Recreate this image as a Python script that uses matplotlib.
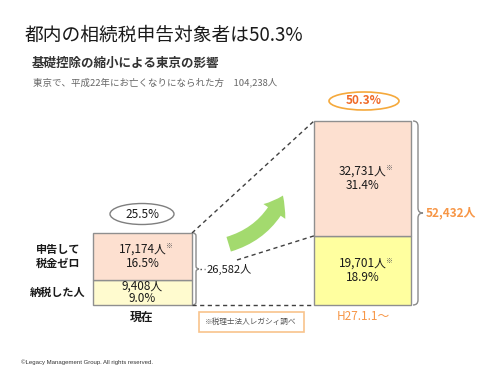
import matplotlib
matplotlib.use('Agg')
import matplotlib.pyplot as plt
from matplotlib.patches import Ellipse, Rectangle, FancyArrowPatch, PathPatch
from matplotlib.path import Path
from matplotlib.transforms import blended_transform_factory

plt.rcParams['font.family'] = ['Noto Sans CJK JP', 'DejaVu Sans']

# data
row_labels = ['納税した人', '申告して\n税金ゼロ']
col_labels = ['現在', 'H27.1.1〜']
now_counts = [9408, 17174]     # paid tax, filed with zero tax
now_pct = [9.0, 16.5]
new_counts = [19701, 32731]
new_pct = [18.9, 31.4]
shares = [25.5, 50.3]
starred = [[False, True], [True, True]]
deaths_h22 = 104238

W, H = 500, 377
orange = '#f79646'
edge = '#8f8f8f'
upper_fill = '#fde0d0'
lower_fills = ['#fffbcf', '#ffff9f']

fig = plt.figure(figsize=(W / 100, H / 100), dpi=100)
fig.patch.set_facecolor('white')


def px_axes(x0, y0, x1, y1):
    return fig.add_axes([x0 / W, 1 - y1 / H, (x1 - x0) / W, (y1 - y0) / H])


# bar boxes in pixels (left, top, right, bottom)
boxes = [(93, 233, 192, 305), (314, 121, 411, 305)]
series = [(now_counts, now_pct), (new_counts, new_pct)]
gaps = [[4.3, 5.4], [5.2, 5.4]]

bar_axes = []
num_texts = []
for i, (counts, pcts) in enumerate(series):
    bx = px_axes(*boxes[i])
    bx.set_xlim(-0.5, 0.5)
    bx.set_ylim(0, sum(counts))
    bx.axis('off')
    bar_axes.append(bx)
    bottom = 0
    for j, (c, p) in enumerate(zip(counts, pcts)):
        fill = lower_fills[i] if j == 0 else upper_fill
        bx.bar(0, c, bottom=bottom, width=1, color=fill, edgecolor=edge,
               linewidth=1, clip_on=False)
        mid = bottom + c / 2
        t = bx.annotate(f'{c:,}人', (0, mid), xytext=(0, gaps[i][j]),
                        textcoords='offset points', ha='center', va='center',
                        fontsize=8.5, color='#1a1a1a')
        bx.annotate(f'{p:.1f}%', (0, mid), xytext=(0, -gaps[i][j]),
                    textcoords='offset points', ha='center', va='center',
                    fontsize=8.5, color='#1a1a1a')
        if starred[i][j]:
            num_texts.append(t)
        bottom += c

# overlay in pixel coordinates
ax = fig.add_axes([0, 0, 1, 1])
ax.set_xlim(0, W)
ax.set_ylim(H, 0)
ax.axis('off')

# titles
ax.text(25, 35, '都内の相続税申告対象者は50.3%', fontsize=13.5, va='center',
        color='#1a1a1a')
ax.text(32, 63, '基礎控除の縮小による東京の影響', fontsize=9, va='center',
        weight='bold', color='#333333')
ax.text(33, 82, f'東京で、平成22年にお亡くなりになられた方　{deaths_h22:,}人',
        fontsize=6.8, va='center', color='#666666')

# row labels next to left bar
tr = blended_transform_factory(ax.transData, bar_axes[0].transData)
bottom = 0
for lab, c in zip(row_labels, now_counts):
    lines = lab.split('\n')
    mid = bottom + c / 2
    for k, line in enumerate(lines):
        off = (k - (len(lines) - 1) / 2) * -9.5
        ax.annotate(line, (58, mid), xycoords=tr, xytext=(0, off),
                    textcoords='offset points', ha='center', va='center',
                    fontsize=8, weight='bold', color='#1a1a1a')
    bottom += c

# column labels
ax.text(142, 317, col_labels[0], ha='center', va='center', fontsize=8.5,
        weight='bold', color='#1a1a1a')
ax.text(363, 317, col_labels[1], ha='center', va='center', fontsize=8.5,
        color=orange)

# share ellipses
ax.add_patch(Ellipse((142, 214), 64, 21, fill=False, edgecolor='#7f7f7f', lw=1))
ax.text(142, 214, f'{shares[0]}%', ha='center', va='center', fontsize=8.5,
        color='#1a1a1a')
ax.add_patch(Ellipse((364, 101), 70, 18, fill=False, edgecolor='#f5a93c', lw=1.2))
ax.text(364, 101, f'{shares[1]}%', ha='center', va='center', fontsize=8.5,
        weight='bold', color='#f06a28')


def brace(x, y0, y1, w, color, lw=1):
    ym = (y0 + y1) / 2
    h = w / 2
    verts = [(x, y0), (x + h, y0), (x + h, y0 + h),
             (x + h, ym - h), (x + h, ym), (x + w, ym),
             (x + h, ym), (x + h, ym + h),
             (x + h, y1 - h), (x + h, y1), (x, y1)]
    codes = [Path.MOVETO, Path.CURVE3, Path.CURVE3,
             Path.LINETO, Path.CURVE3, Path.CURVE3,
             Path.CURVE3, Path.CURVE3,
             Path.LINETO, Path.CURVE3, Path.CURVE3]
    ax.add_patch(PathPatch(Path(verts, codes), fill=False, edgecolor=color, lw=lw))
    return ym


# connecting dashed lines
lx0, ly0, lx1, ly1 = boxes[0]
rx0, ry0, rx1, ry1 = boxes[1]
r_split = ry1 - (ry1 - ry0) * new_counts[0] / sum(new_counts)
dash = (0, (3, 2.5))
ax.plot([lx1, rx0], [ly0, ry0], ls=dash, color='#404040', lw=1)
ax.plot([237, rx0], [260, r_split], ls=dash, color='#404040', lw=1)
ax.plot([lx1, rx0], [ly1, ry1], ls=dash, color='#404040', lw=1)

# braces with totals
ym = brace(lx1 + 1, ly0, ly1, 6, '#8a8a8a')
ax.plot([lx1 + 8, lx1 + 13], [ym, ym], ls=(0, (1, 2)), color='#404040', lw=1)
ax.text(207, ym, f'{sum(now_counts):,}人', va='center', fontsize=8, color='#1a1a1a')
ym = brace(rx1 + 2, ry0, ry1, 10, '#8a8a8a')
ax.text(rx1 + 15, ym, f'{sum(new_counts):,}人', va='center', fontsize=8.5,
        weight='bold', color=orange)

# green arrow
ax.add_patch(FancyArrowPatch((226, 245), (284, 193),
                             connectionstyle='arc3,rad=0.25',
                             arrowstyle='simple,head_length=1.3,head_width=1.9,tail_width=1.1',
                             mutation_scale=10, color='#a3da6e', lw=0))

# source note
ax.add_patch(Rectangle((199, 312), 105, 20, facecolor='white',
                       edgecolor='#f8c48c', lw=1.2))
ax.text(251, 322, '※税理士法人レガシィ調べ', ha='center', va='center',
        fontsize=5.5, color='#555555')

ax.text(21, 362, '©Legacy Management Group. All rights reserved.', va='center',
        fontsize=4.3, family='Liberation Sans', color='#333333')

# reference marks after the counts
fig.canvas.draw()
renderer = fig.canvas.get_renderer()
for t in num_texts:
    bb = t.get_window_extent(renderer)
    ax.text(bb.x1 - 1.5, H - bb.y1, '※', ha='left', va='top', fontsize=5,
            color='#555555')

fig.savefig('out.png', dpi=100)
